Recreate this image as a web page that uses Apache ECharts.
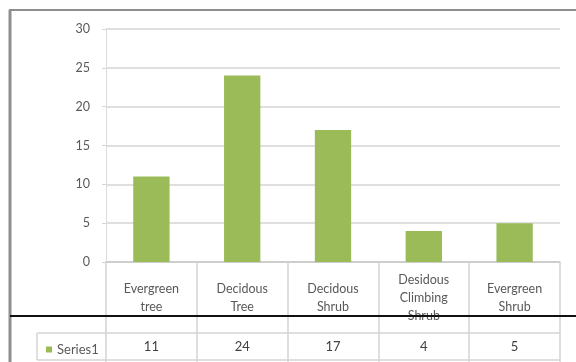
<!DOCTYPE html>
<html>
<head>
<meta charset="utf-8">
<script src="https://cdn.jsdelivr.net/npm/echarts@6/dist/echarts.min.js"></script>
<style>
  html, body { margin: 0; padding: 0; background: #fff; }
  #chart { width: 576px; height: 362px; }
</style>
</head>
<body>
<div id="chart"></div>
<script>
const categories = ["Evergreen\ntree", "Decidous\nTree", "Decidous\nShrub", "Desidous\nClimbing\nShrub", "Evergreen\nShrub"];
const seriesName = "Series1";
const values = [11, 24, 17, 4, 5];
const yTicks = [0, 5, 10, 15, 20, 25, 30];

const textColor = "#595959";
const lineGray = "#d4d4d4";
const barGreen = "#9bbb59";

const chart = echarts.init(document.getElementById("chart"), null, { renderer: "canvas" });

chart.setOption({
  animation: false,
  backgroundColor: "#fff",
  textStyle: { fontFamily: "Lato", color: textColor },
  grid: { left: 106, right: 16, top: 29, bottom: 100 },
  legend: {
    left: 41,
    top: 338,
    itemWidth: 6,
    itemHeight: 6,
    icon: "rect",
    textStyle: { fontSize: 13, color: textColor, fontFamily: "Lato" },
    itemGap: 4,
    data: [seriesName]
  },
  xAxis: [
    {
      type: "category",
      data: categories,
      axisLine: { lineStyle: { color: "#c8c8c8", width: 1.5 } },
      axisTick: { show: true, length: 100, lineStyle: { color: lineGray, width: 1.5 } },
      axisLabel: {
        interval: 0,
        fontSize: 12.5,
        color: textColor,
        lineHeight: 18,
        verticalAlign: "middle",
        margin: 36
      }
    },
    {
      type: "category",
      position: "bottom",
      offset: 85,
      data: values.map(String),
      axisLine: { show: false },
      axisTick: { show: false },
      axisLabel: { interval: 0, fontSize: 13, color: "#404040", margin: 0, verticalAlign: "middle" }
    }
  ],
  yAxis: {
    type: "value",
    min: 0,
    max: 30,
    interval: 5,
    axisLine: { show: true, lineStyle: { color: "#dcdcdc", width: 1 } },
    axisTick: { show: true, length: 4, lineStyle: { color: lineGray } },
    splitLine: { lineStyle: { color: lineGray, width: 1.5 } },
    axisLabel: {
      fontSize: 12.5,
      color: textColor,
      margin: 16,
      formatter: v => (yTicks.includes(v) ? String(v) : "")
    }
  },
  series: [
    {
      name: seriesName,
      type: "bar",
      xAxisIndex: 0,
      barWidth: "40%",
      itemStyle: { color: barGreen },
      data: values
    }
  ],
  graphic: [
    // outer chart-area border (left and top)
    { type: "line", shape: { x1: 10, y1: 10, x2: 10, y2: 362 }, style: { stroke: "#8f8f8f", lineWidth: 3 }, silent: true },
    { type: "line", shape: { x1: 9, y1: 10, x2: 576, y2: 10 }, style: { stroke: "#8f8f8f", lineWidth: 2 }, silent: true },
    // data table row
    { type: "line", shape: { x1: 37, y1: 333, x2: 560, y2: 333 }, style: { stroke: lineGray, lineWidth: 1.5 }, silent: true },
    { type: "line", shape: { x1: 37, y1: 360, x2: 560, y2: 360 }, style: { stroke: lineGray, lineWidth: 1.5 }, silent: true },
    { type: "line", shape: { x1: 37, y1: 333, x2: 37, y2: 360 }, style: { stroke: lineGray, lineWidth: 1.5 }, silent: true },
    // black rule across the picture
    { type: "line", shape: { x1: 10, y1: 316, x2: 576, y2: 316 }, style: { stroke: "#111", lineWidth: 2 }, silent: true, z: 100 }
  ]
});
</script>
</body>
</html>
